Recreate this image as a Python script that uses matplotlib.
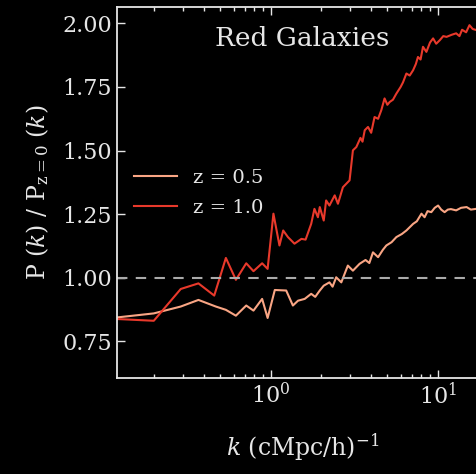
import matplotlib
matplotlib.use('Agg')
import matplotlib.pyplot as plt
import numpy as np

# z = 0.5 ratio
k_05 = [0.12, 0.2, 0.29, 0.37, 0.47, 0.54, 0.62, 0.715, 0.79, 0.89, 0.96, 1.06,
        1.24, 1.36, 1.46, 1.6, 1.75, 1.85, 1.97, 2.08, 2.25, 2.35, 2.47, 2.65,
        2.9, 3.11, 3.41, 3.7, 3.9, 4.1, 4.4, 4.7, 4.93, 5.3, 5.66, 6.1, 6.5,
        7.13, 7.5, 8.0, 8.35, 8.7, 9.16, 9.6, 10.06, 10.5, 11.0, 11.5, 12.0,
        12.9, 13.8, 14.9, 15.8, 17.0, 18.5]
r_05 = [0.844, 0.860, 0.887, 0.913, 0.887, 0.874, 0.851, 0.891, 0.871, 0.917,
        0.842, 0.952, 0.950, 0.891, 0.910, 0.917, 0.937, 0.925, 0.950, 0.969,
        0.982, 0.965, 1.002, 0.982, 1.048, 1.028, 1.055, 1.070, 1.058, 1.100,
        1.081, 1.110, 1.127, 1.140, 1.160, 1.172, 1.186, 1.212, 1.222, 1.252,
        1.238, 1.262, 1.258, 1.275, 1.284, 1.268, 1.258, 1.268, 1.270, 1.265,
        1.275, 1.278, 1.268, 1.271, 1.275]

# z = 1.0 ratio
k_10 = [0.12, 0.2, 0.29, 0.37, 0.46, 0.54, 0.62, 0.715, 0.79, 0.89, 0.96, 1.04,
        1.13, 1.19, 1.27, 1.39, 1.53, 1.62, 1.75, 1.83, 1.92, 1.97, 2.08, 2.15,
        2.25, 2.42, 2.53, 2.71, 2.97, 3.11, 3.26, 3.45, 3.55, 3.66, 3.83, 4.0,
        4.19, 4.4, 4.6, 4.81, 5.0, 5.16, 5.4, 5.66, 6.0, 6.2, 6.5, 6.8, 7.13,
        7.4, 7.62, 7.9, 8.17, 8.56, 9.0, 9.39, 9.8, 10.3, 10.8, 11.3, 12.1, 12.9,
        13.5, 14.0, 14.8, 15.5, 16.2, 17.0, 18.5]
r_10 = [0.838, 0.831, 0.956, 0.978, 0.930, 1.078, 0.992, 1.057, 1.026, 1.057,
        1.035, 1.252, 1.127, 1.186, 1.160, 1.134, 1.153, 1.150, 1.212, 1.271,
        1.238, 1.278, 1.225, 1.304, 1.284, 1.324, 1.291, 1.356, 1.383, 1.501,
        1.514, 1.550, 1.535, 1.580, 1.593, 1.570, 1.632, 1.625, 1.659, 1.705,
        1.680, 1.691, 1.700, 1.724, 1.750, 1.768, 1.803, 1.795, 1.816, 1.840,
        1.868, 1.858, 1.908, 1.888, 1.925, 1.941, 1.920, 1.934, 1.950, 1.947,
        1.955, 1.961, 1.950, 1.975, 1.965, 1.993, 1.978, 1.974, 1.980]

plt.rcParams['font.family'] = 'DejaVu Serif'
plt.rcParams['mathtext.fontset'] = 'dejavuserif'
fg = '#e6e6e6'

fig = plt.figure(figsize=(4.77, 4.74), dpi=100, facecolor='black')
ax = fig.add_axes([0.2447, 0.2025, 0.7783, 0.7825], facecolor='black')

ax.plot(k_05, r_05, color='#f9a584', lw=1.5, label='z = 0.5')
ax.plot(k_10, r_10, color='#e8392b', lw=1.5, label='z = 1.0')
ax.axhline(1.0, color='#aaaaaa', ls='--', lw=1.5, dashes=(5, 4))

ax.set_xscale('log')
ax.set_xlim(0.12, 20)
ax.set_ylim(0.606, 2.064)
ax.set_yticks([0.75, 1.0, 1.25, 1.5, 1.75, 2.0])
ax.set_yticklabels(['0.75', '1.00', '1.25', '1.50', '1.75', '2.00'])

ax.tick_params(which='both', direction='in', top=True, right=True,
               colors=fg, labelsize=16)
ax.tick_params(which='major', length=6, width=1)
ax.tick_params(which='minor', length=3, width=1)
for s in ax.spines.values():
    s.set_color(fg)
    s.set_linewidth(1.3)

ax.set_xlabel(r'$k$ (cMpc/h)$^{-1}$', color=fg, fontsize=17, labelpad=16)
ax.set_ylabel(r'P $(k)$ / P$_{\mathrm{z=0}}$ $(k)$', color=fg, fontsize=17, labelpad=8)
ax.text(0.5, 0.916, 'Red Galaxies', transform=ax.transAxes, ha='center',
        va='center', color=fg, fontsize=19)

leg = ax.legend(loc='upper left', bbox_to_anchor=(0.0, 0.61), frameon=False,
                fontsize=14, handlelength=2.2, labelspacing=0.6)
for t in leg.get_texts():
    t.set_color(fg)

plt.savefig('out.png', dpi=100, facecolor='black')
